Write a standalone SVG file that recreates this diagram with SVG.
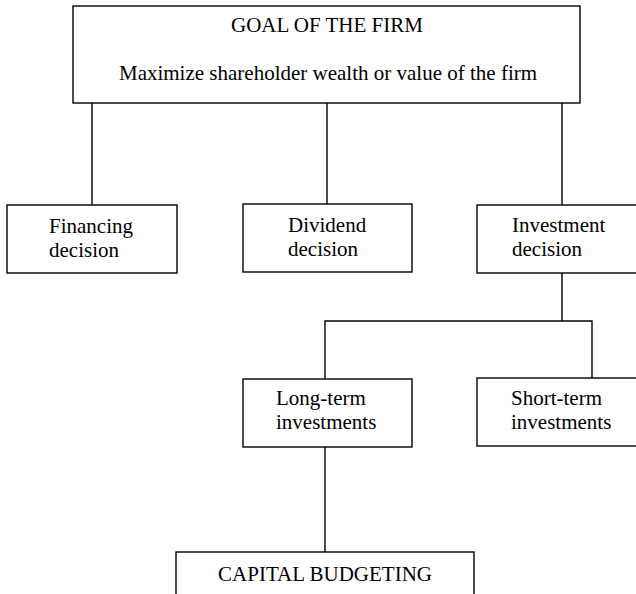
<svg xmlns="http://www.w3.org/2000/svg" width="636" height="594" viewBox="0 0 636 594">
<style>
.box{fill:#fff;stroke:#000;stroke-width:1.4}
.ln{fill:none;stroke:#000;stroke-width:1.4}
text{font-family:"Liberation Serif","Times New Roman",serif;font-size:21px;fill:#000}
.c{text-anchor:middle}
</style>
<rect width="636" height="594" fill="#fff"/>
<g id="connectors">
<line class="ln" x1="92" y1="103" x2="92" y2="205"/>
<line class="ln" x1="327" y1="103" x2="327" y2="205"/>
<line class="ln" x1="562" y1="103" x2="562" y2="205"/>
<path class="ln" d="M562 273 V321 M325 379 V321 H592 V378"/>
<line class="ln" x1="325" y1="447" x2="325" y2="552"/>
</g>
<g id="goal">
<rect class="box" x="73" y="6" width="507" height="97"/>
<text class="c" x="327" y="32">GOAL OF THE FIRM</text>
<text class="c" x="328" y="80">Maximize shareholder wealth or value of the firm</text>
</g>
<g id="financing">
<rect class="box" x="7" y="205" width="170" height="68"/>
<text x="49" y="233">Financing</text>
<text x="49" y="257">decision</text>
</g>
<g id="dividend">
<rect class="box" x="243" y="204" width="169" height="68"/>
<text x="288" y="232">Dividend</text>
<text x="288" y="256">decision</text>
</g>
<g id="investment">
<rect class="box" x="477" y="205" width="170" height="68"/>
<text x="512" y="232">Investment</text>
<text x="512" y="256">decision</text>
</g>
<g id="longterm">
<rect class="box" x="243" y="379" width="169" height="68"/>
<text x="276" y="405">Long-term</text>
<text x="276" y="429">investments</text>
</g>
<g id="shortterm">
<rect class="box" x="477" y="378" width="170" height="68"/>
<text x="511" y="405">Short-term</text>
<text x="511" y="429">investments</text>
</g>
<g id="capital">
<rect class="box" x="176" y="552" width="298" height="60"/>
<text class="c" x="325" y="581">CAPITAL BUDGETING</text>
</g>
</svg>
